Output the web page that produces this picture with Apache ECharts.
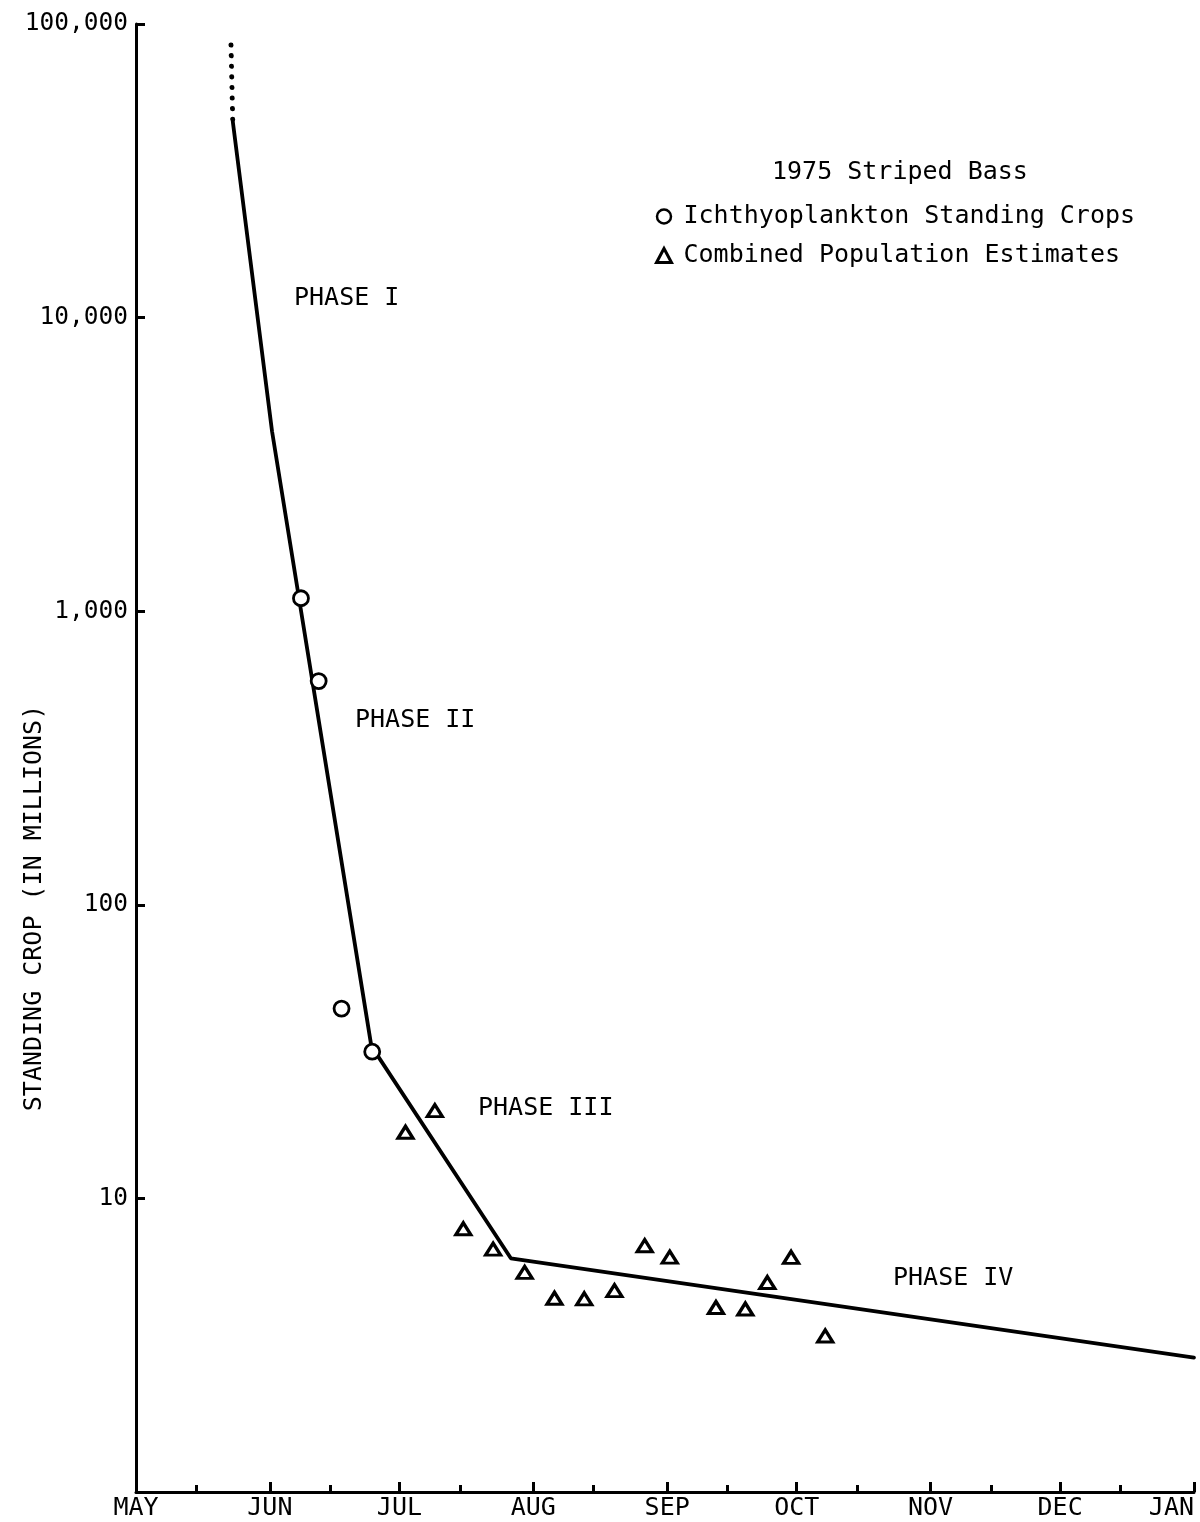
<!DOCTYPE html>
<html>
<head>
<meta charset="utf-8">
<title>1975 Striped Bass standing crop</title>
<script src="https://cdn.jsdelivr.net/npm/echarts@6/dist/echarts.min.js"></script>
<style>
  html, body { margin: 0; padding: 0; background: #fff; }
  #chart { width: 1200px; height: 1522px; }
</style>
</head>
<body>
<div id="chart"></div>
<script>
// x values are days counted from May 1, 1975
const monthStartDays = [0, 31, 61, 92, 123, 153, 184, 214, 245];
const monthLabels = ['MAY', 'JUN', 'JUL', 'AUG', 'SEP', 'OCT', 'NOV', 'DEC', 'JAN'];
const midMonthDays = [14, 45, 75, 106, 137, 167, 198, 228];

// y tick values (standing crop, millions)
const yTickValues = [10, 100, 1000, 10000, 100000];

// Ichthyoplankton standing crops (circles)
const ichthyoDays = [38.2, 42.3, 47.6, 54.7];
const ichthyoValues = [1107, 578, 44.3, 31.6];

// Combined population estimates (triangles)
const combinedDays = [62.4, 69.2, 75.8, 82.7, 90.0, 96.9, 103.8, 110.8, 117.8, 123.6, 134.3, 141.1, 146.2, 151.7, 159.6];
const combinedValues = [16.8, 19.9, 7.88, 6.72, 5.60, 4.57, 4.55, 4.85, 6.90, 6.31, 4.25, 4.20, 5.17, 6.30, 3.40];

// fitted decline, phases I-IV
const fitDays = [22.4, 31.5, 54.5, 86.8, 245];
const fitValues = [46700, 4100, 33.0, 6.25, 2.87];

// extrapolated start of phase I (dotted)
const extrapDays = [22.0, 22.4];
const extrapValues = [84800, 46700];

const FONT = '"DejaVu Sans Mono", monospace';
const pairs = (xs, ys) => xs.map((x, i) => [x, ys[i]]);
const fmtThousands = v => String(Math.round(v)).replace(/\B(?=(\d{3})+(?!\d))/g, ',');

const chart = echarts.init(document.getElementById('chart'), null, { renderer: 'canvas' });

chart.setOption({
  backgroundColor: '#fff',
  animation: false,
  title: {
    text: '1975 Striped Bass',
    left: 772,
    top: 160,
    padding: 0,
    textStyle: { fontFamily: FONT, fontSize: 25, fontWeight: 'normal', color: '#000' }
  },
  legend: {
    orient: 'vertical',
    left: 655,
    top: 204,
    padding: 0,
    itemWidth: 15,
    itemHeight: 14,
    itemGap: 14,
    selectedMode: false,
    textStyle: { fontFamily: FONT, fontSize: 25, color: '#000', padding: [0, 0, 0, 7] },
    data: [
      { name: 'Ichthyoplankton Standing Crops', icon: 'circle',
        itemStyle: { color: '#fff', borderColor: '#000', borderWidth: 2.5 } },
      { name: 'Combined Population Estimates', icon: 'triangle',
        itemStyle: { color: '#fff', borderColor: '#000', borderWidth: 3 } }
    ]
  },
  grid: { left: 136, right: 6, top: 24, bottom: 30, containLabel: false },
  xAxis: [
    {
      type: 'value',
      min: 0,
      max: 245,
      position: 'bottom',
      splitLine: { show: false },
      axisLine: { show: true, lineStyle: { color: '#000', width: 3 } },
      axisTick: { show: true, inside: true, length: 10, customValues: monthStartDays,
                  lineStyle: { color: '#000', width: 3 } },
      axisLabel: {
        show: true,
        customValues: monthStartDays,
        margin: 4,
        alignMaxLabel: 'right',
        fontFamily: FONT,
        fontSize: 25,
        color: '#000',
        formatter: v => monthLabels[monthStartDays.indexOf(Math.round(v))] || ''
      }
    },
    {
      type: 'value',
      min: 0,
      max: 245,
      position: 'bottom',
      splitLine: { show: false },
      axisLine: { show: false },
      axisTick: { show: true, inside: true, length: 7, customValues: midMonthDays,
                  lineStyle: { color: '#000', width: 3 } },
      axisLabel: { show: false }
    }
  ],
  yAxis: {
    type: 'log',
    logBase: 10,
    min: 1,
    max: 100000,
    splitLine: { show: false },
    axisLine: { show: true, lineStyle: { color: '#000', width: 3 } },
    axisTick: { show: true, inside: true, length: 9, customValues: yTickValues,
                lineStyle: { color: '#000', width: 3 } },
    axisLabel: {
      customValues: yTickValues,
      margin: 8,
      fontFamily: FONT,
      fontSize: 24.5,
      color: '#000',
      formatter: v => fmtThousands(v)
    }
  },
  graphic: [
    { type: 'text', x: 34, y: 908, rotation: Math.PI / 2,
      style: { text: 'STANDING CROP (IN MILLIONS)', font: '25px ' + FONT, fill: '#000',
               align: 'center', verticalAlign: 'middle' } },
    { type: 'text', x: 294, y: 298,
      style: { text: 'PHASE I', font: '25px ' + FONT, fill: '#000', verticalAlign: 'middle' } },
    { type: 'text', x: 355, y: 720,
      style: { text: 'PHASE II', font: '25px ' + FONT, fill: '#000', verticalAlign: 'middle' } },
    { type: 'text', x: 478, y: 1108,
      style: { text: 'PHASE III', font: '25px ' + FONT, fill: '#000', verticalAlign: 'middle' } },
    { type: 'text', x: 893, y: 1278,
      style: { text: 'PHASE IV', font: '25px ' + FONT, fill: '#000', verticalAlign: 'middle' } }
  ],
  series: [
    {
      name: 'extrapolation',
      type: 'line',
      data: pairs(extrapDays, extrapValues),
      showSymbol: false,
      silent: true,
      lineStyle: { color: '#000', width: 5, type: [0.1, 10.5], cap: 'round' }
    },
    {
      name: 'phases',
      type: 'line',
      data: pairs(fitDays, fitValues),
      showSymbol: false,
      silent: true,
      lineStyle: { color: '#000', width: 3.8, join: 'round', cap: 'round' }
    },
    {
      name: 'Ichthyoplankton Standing Crops',
      type: 'scatter',
      data: pairs(ichthyoDays, ichthyoValues),
      symbol: 'circle',
      symbolSize: 15,
      z: 5,
      itemStyle: { color: '#fff', borderColor: '#000', borderWidth: 2.8, opacity: 1 }
    },
    {
      name: 'Combined Population Estimates',
      type: 'scatter',
      data: pairs(combinedDays, combinedValues),
      symbol: 'triangle',
      symbolSize: [15, 12],
      z: 5,
      itemStyle: { color: '#fff', borderColor: '#000', borderWidth: 3.2, opacity: 1 }
    }
  ]
});
</script>
</body>
</html>
